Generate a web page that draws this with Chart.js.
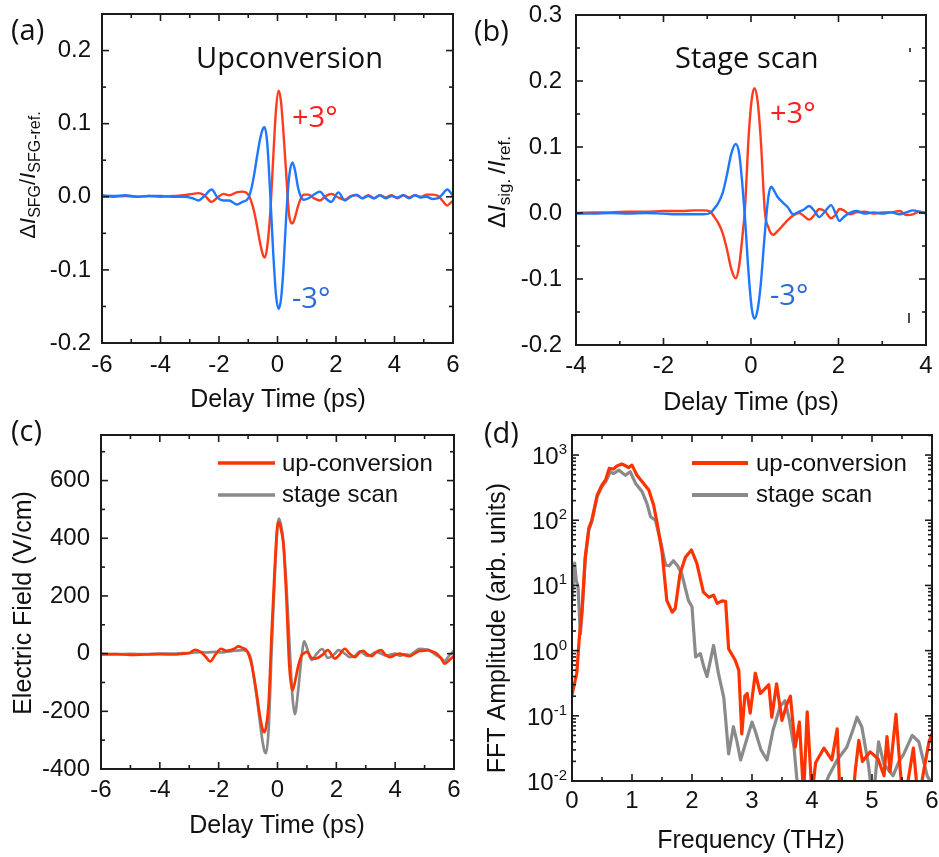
<!DOCTYPE html>
<html>
<head>
<meta charset="utf-8">
<script src="https://cdn.jsdelivr.net/npm/chart.js@4.4.1/dist/chart.umd.min.js"></script>
<style>
  html, body { margin: 0; padding: 0; background: #fff; }
  #wrap { position: relative; width: 939px; height: 857px; overflow: hidden; background: #fff; }
  #wrap canvas { position: absolute; left: 0; top: 0; }
</style>
</head>
<body>
<div id="wrap">
  <canvas id="chartA" width="939" height="857"></canvas>
  <canvas id="chartB" width="939" height="857"></canvas>
  <canvas id="chartC" width="939" height="857"></canvas>
  <canvas id="chartD" width="939" height="857"></canvas>
</div>
<script>
// ---- (a) upconversion, delay time (ps) vs dI/I ----
var delayA = [
  -6.0, -5.6, -5.2, -4.8, -4.4, -4.0, -3.6, -3.2, -2.9, -2.7,
  -2.5, -2.25, -2.05, -1.85, -1.65, -1.4, -1.2, -1.0, -0.9, -0.8,
  -0.7, -0.6, -0.5, -0.44, -0.35, -0.25, -0.15, -0.05, 0.04, 0.12,
  0.2, 0.3, 0.4, 0.51, 0.6, 0.7, 0.8, 0.9, 1.06, 1.25,
  1.45, 1.65, 1.84, 2.08, 2.3, 2.5, 2.7, 2.9, 3.1, 3.3,
  3.5, 3.7, 3.9, 4.1, 4.3, 4.5, 4.7, 4.9, 5.1, 5.3,
  5.5, 5.65, 5.8, 5.95, 6.0
];
var plusA = [
  0.001, 0.000, 0.001, 0.000, 0.001, 0.000, 0.001, 0.002, 0.004, 0.005,
  0.002, -0.007, -0.001, 0.004, 0.002, 0.006, 0.007, 0.003, -0.006, -0.020,
  -0.040, -0.062, -0.079, -0.083, -0.068, -0.023, 0.050, 0.120, 0.145, 0.130,
  0.090, 0.030, -0.026, -0.0365, -0.028, -0.013, -0.002, 0.003, 0.003, -0.002,
  -0.005, 0.001, 0.004, -0.001, -0.004, 0.001, 0.002, -0.002, 0.002, -0.002,
  0.002, -0.001, 0.002, -0.002, 0.002, -0.001, 0.002, 0.000, 0.003, 0.003,
  0.001, -0.006, -0.012, -0.007, -0.006
];
var minusA = [
  0.002, 0.001, 0.002, 0.000, 0.001, 0.001, 0.000, 0.000, -0.002, -0.005,
  0.001, 0.010, -0.001, -0.005, -0.005, -0.0105, -0.007, -0.002, 0.010, 0.030,
  0.055, 0.078, 0.093, 0.095, 0.073, 0.005, -0.074, -0.135, -0.1535, -0.140,
  -0.100, -0.025, 0.028, 0.047, 0.036, 0.013, 0.000, -0.004, -0.002, 0.003,
  0.007, -0.002, -0.007, 0.006, -0.005, 0.000, 0.003, -0.002, 0.001, -0.002,
  0.002, -0.002, 0.001, -0.001, 0.002, -0.002, 0.002, -0.001, 0.000, -0.003,
  -0.002, 0.004, 0.010, 0.004, 0.000
];

// ---- (b) stage scan ----
var delayB = [
  -4.0, -3.6, -3.2, -2.8, -2.4, -2.0, -1.6, -1.3, -1.1, -0.93,
  -0.85, -0.75, -0.65, -0.55, -0.45, -0.35, -0.27, -0.2, -0.14, -0.05,
  0.02, 0.08, 0.15, 0.22, 0.32, 0.4, 0.46, 0.51, 0.6, 0.74,
  0.85, 0.96, 1.1, 1.2, 1.33, 1.45, 1.56, 1.7, 1.83, 1.93,
  2.02, 2.12, 2.25, 2.41, 2.6, 2.8, 3.0, 3.2, 3.4, 3.55,
  3.7, 3.85, 4.0
];
var plusB = [
  0.000, 0.001, 0.001, 0.002, 0.002, 0.003, 0.003, 0.004, 0.004, 0.002,
  -0.005, -0.015, -0.030, -0.055, -0.085, -0.099, -0.080, -0.038, 0.005, 0.120,
  0.174, 0.189, 0.170, 0.115, 0.000, -0.022, -0.031, -0.033, -0.028, -0.018,
  -0.010, -0.004, 0.000, -0.004, -0.010, -0.003, 0.006, 0.002, -0.008, -0.003,
  0.006, 0.004, -0.002, 0.001, 0.002, -0.001, 0.001, 0.001, 0.003, -0.003,
  -0.002, 0.002, 0.000
];
var minusB = [
  -0.001, -0.001, 0.000, -0.001, 0.000, -0.001, -0.002, -0.002, -0.002, 0.000,
  0.006, 0.015, 0.030, 0.058, 0.090, 0.1045, 0.090, 0.045, -0.005, -0.096,
  -0.146, -0.160, -0.147, -0.110, -0.028, 0.026, 0.040, 0.036, 0.025, 0.015,
  0.008, -0.002, 0.002, 0.005, 0.0106, 0.003, -0.006, 0.003, 0.012, 0.000,
  -0.012, -0.006, 0.000, 0.003, -0.001, 0.001, -0.001, 0.001, -0.002, 0.001,
  0.004, 0.002, -0.001
];

// ---- (c) electric field (V/cm) ----
var delayC = [
  -6.0, -5.5, -5.0, -4.5, -4.0, -3.5, -3.2, -3.0, -2.8, -2.6,
  -2.45, -2.29, -2.1, -1.92, -1.75, -1.6, -1.45, -1.33, -1.2, -1.03,
  -0.9, -0.8, -0.7, -0.6, -0.5, -0.45, -0.39, -0.3, -0.2, -0.1,
  0.0, 0.05, 0.12, 0.2, 0.3, 0.4, 0.51, 0.59, 0.7, 0.82,
  0.91, 1.0, 1.16, 1.3, 1.52, 1.71, 1.95, 2.07, 2.29, 2.45,
  2.63, 2.8, 2.91, 3.05, 3.2, 3.35, 3.53, 3.65, 3.82, 4.0,
  4.16, 4.3, 4.5, 4.65, 4.83, 5.0, 5.12, 5.25, 5.39, 5.55,
  5.68, 5.85, 6.0
];
var fieldUp = [
  -3, -2, -4, -3, -2, -3, 0, 2, 13, 5,
  -10, -27, -2, 17, 10, 12, 18, 25, 20, 8,
  -30, -80, -145, -215, -265, -272, -255, -170, 70, 285,
  445, 456, 430, 380, 200, -40, -127, -100, -45, -6,
  2, 6, -15, -17, -5, 12, -17, -8, 17, 0,
  -12, 5, 10, -2, -9, 5, 12, -2, -12, -5,
  0, -5, -9, 0, 9, 10, 12, 8, 2, -15,
  -35, -22, -8
];
var fieldStage = [
  0, -2, -1, -2, 0, 0, 2, 2, 4, 5,
  4, 5, 6, 4, 6, 8, 10, 11, 12, 8,
  -20, -85, -155, -235, -310, -335, -345, -260, 10, 250,
  440, 468, 445, 390, 240, 50, -150, -210, -130, -10,
  43, 20, -22, -5, 16, -15, 0, 12, 0, -12,
  -8, 8, 2, -8, -3, 5, 0, -6, -4, 0,
  -8, -2, -5, 5, 17, 15, 13, 5, -5, -15,
  -25, -5, 10
];

// ---- (d) FFT amplitude (arb. units) vs frequency (THz) ----
var freqUp = [
  0.0, 0.08, 0.12, 0.17, 0.22, 0.28, 0.33, 0.42, 0.5, 0.56,
  0.62, 0.69, 0.75, 0.83, 0.9, 0.94, 1.0, 1.08, 1.17, 1.28,
  1.36, 1.42, 1.5, 1.58, 1.67, 1.72, 1.8, 1.89, 1.99, 2.08,
  2.19, 2.28, 2.36, 2.42, 2.5, 2.56, 2.61, 2.72, 2.78, 2.83,
  2.88, 2.92, 2.97, 3.055, 3.14, 3.28, 3.33, 3.41, 3.5, 3.58,
  3.64, 3.72, 3.79, 3.86, 3.92, 4.0, 4.06, 4.2, 4.33, 4.42,
  4.47, 4.6, 4.68, 4.72, 4.78, 4.84, 4.97, 5.1, 5.2, 5.25,
  5.3, 5.4, 5.47, 5.52, 5.6, 5.69, 5.75, 5.78, 5.86, 5.95,
  6.0
];
var fftUp = [
  0.21, 0.45, 1.5, 4.7, 27, 75, 100, 244, 347, 414,
  625, 610, 678, 727, 678, 640, 700, 493, 390, 290,
  171, 89, 33, 5.9, 3.9, 4.4, 15, 27, 35, 22,
  7.9, 6.6, 7.1, 5.3, 5.8, 5.7, 1.07, 0.71, 0.5, 0.053,
  0.2, 0.22, 0.11, 0.45, 0.22, 0.30, 0.095, 0.31, 0.085, 0.15,
  0.2, 0.033, 0.08, 0.006, 0.115, 0.006, 0.019, 0.032, 0.021, 0.063,
  0.005, 0.004, 0.005, 0.014, 0.042, 0.02, 0.028, 0.022, 0.012, 0.048,
  0.014, 0.105, 0.015, 0.005, 0.01, 0.032, 0.008, 0.005, 0.014, 0.04,
  0.053
];
var freqStage = [
  0.0, 0.044, 0.07, 0.1, 0.14, 0.17, 0.22, 0.28, 0.33, 0.42,
  0.5, 0.56, 0.64, 0.69, 0.78, 0.84, 0.89, 0.97, 1.06, 1.17,
  1.25, 1.31, 1.39, 1.47, 1.56, 1.62, 1.69, 1.76, 1.83, 1.94,
  2.0, 2.06, 2.14, 2.2, 2.25, 2.36, 2.44, 2.53, 2.61, 2.69,
  2.75, 2.81, 2.9, 3.0, 3.05, 3.15, 3.25, 3.35, 3.47, 3.55,
  3.62, 3.7, 3.78, 3.9, 4.0, 4.1, 4.2, 4.28, 4.42, 4.58,
  4.68, 4.75, 4.83, 4.94, 5.0, 5.05, 5.11, 5.2, 5.35, 5.45,
  5.53, 5.67, 5.78, 5.92, 6.0
];
var fftStage = [
  6, 22, 12, 9.6, 1.8, 4, 25, 70, 95, 230,
  330, 390, 555, 520, 588, 530, 490, 555, 367, 273,
  180, 113, 100, 50, 20.5, 20, 24, 20, 15, 5.9,
  4.7, 0.8, 0.9, 0.55, 0.4, 1.2, 0.45, 0.19, 0.026, 0.068,
  0.04, 0.021, 0.04, 0.08, 0.06, 0.03, 0.021, 0.06, 0.14, 0.17,
  0.09, 0.033, 0.005, 0.004, 0.005, 0.006, 0.008, 0.012, 0.021, 0.033,
  0.06, 0.095, 0.068, 0.018, 0.006, 0.01, 0.04, 0.018, 0.012, 0.02,
  0.026, 0.05, 0.04, 0.012, 0.009
];

var W = 939, H = 857;
var YW = 90, XH = 60;   // fixed axis box sizes
var SANS = '"Liberation Sans", Arial, sans-serif';
var LABEL = '"Open Sans", sans-serif';
var RED = '#ff3c1e', BLUE = '#1e78ff', RED2 = '#ff3300', GREY = '#8a8a8a';

Chart.defaults.font.family = SANS;
Chart.defaults.color = '#111';

function pts(xs, ys) {
  return xs.map(function (x, i) { return { x: x, y: ys[i] }; });
}

function fmt(d) {
  return function (v) { return Math.abs(v) < 1e-9 ? (0).toFixed(d) : Number(v).toFixed(d); };
}

// frame + inward ticks on all four sides
var frameTicks = {
  id: 'frameTicks',
  afterDatasetsDraw: function (chart, args, o) {
    var ctx = chart.ctx, a = chart.chartArea, x = chart.scales.x, y = chart.scales.y;
    ctx.save();
    ctx.strokeStyle = '#1b1b1b';
    ctx.lineWidth = 1.6;
    function seg(x1, y1, x2, y2) { ctx.beginPath(); ctx.moveTo(x1, y1); ctx.lineTo(x2, y2); ctx.stroke(); }
    function isMajor(v, step) { var r = v / step; return Math.abs(r - Math.round(r)) < 1e-6; }
    for (var i = 1; x.min + i * o.xMinor < x.max - 1e-9; i++) {
      var v = x.min + i * o.xMinor, px = x.getPixelForValue(v), len = isMajor(v, o.xMajor) ? 7 : 4;
      seg(px, a.bottom, px, a.bottom - len);
      seg(px, a.top, px, a.top + len);
    }
    var yv = [];
    if (o.log) {
      for (var d = -2; d <= 3; d++) for (var k = 1; k <= 9; k++) {
        var lv = k * Math.pow(10, d);
        if (lv > y.min * 1.001 && lv < y.max) yv.push([lv, k === 1]);
      }
    } else {
      for (var j = 1; y.min + j * o.yMinor < y.max - 1e-9; j++) {
        var w = y.min + j * o.yMinor;
        yv.push([w, isMajor(w, o.yMajor)]);
      }
    }
    yv.forEach(function (e) {
      var py = y.getPixelForValue(e[0]), l = e[1] ? 7 : 4;
      seg(a.left, py, a.left + l, py);
      seg(a.right, py, a.right - l, py);
    });
    ctx.lineWidth = 2;
    ctx.strokeRect(a.left, a.top, a.right - a.left, a.bottom - a.top);
    ctx.restore();
  }
};

function drawRich(ctx, r) {
  ctx.save();
  ctx.translate(r.x, r.y);
  if (r.rotate) ctx.rotate(-Math.PI / 2);
  ctx.textBaseline = 'alphabetic';
  ctx.textAlign = 'left';
  var total = 0;
  r.segs.forEach(function (s) { ctx.font = s.font; s.w = ctx.measureText(s.text).width; total += s.w; });
  var cx = -total / 2;
  ctx.fillStyle = r.color || '#111';
  r.segs.forEach(function (s) { ctx.font = s.font; ctx.fillText(s.text, cx, s.dy || 0); cx += s.w; });
  ctx.restore();
}

// panel letters, annotations, axis titles, legends
var notes = {
  id: 'notes',
  afterDraw: function (chart, args, o) {
    var ctx = chart.ctx;
    ctx.save();
    (o.lines || []).forEach(function (l) {
      ctx.strokeStyle = l.color; ctx.lineWidth = l.width; ctx.lineCap = 'butt';
      ctx.beginPath(); ctx.moveTo(l.x1, l.y); ctx.lineTo(l.x2, l.y); ctx.stroke();
    });
    (o.marks || []).forEach(function (m) {
      ctx.strokeStyle = '#222'; ctx.lineWidth = 1.6;
      ctx.beginPath(); ctx.moveTo(m.x, m.y1); ctx.lineTo(m.x, m.y2); ctx.stroke();
    });
    (o.texts || []).forEach(function (t) {
      ctx.font = t.font; ctx.fillStyle = t.color || '#111';
      ctx.textAlign = t.align || 'left'; ctx.textBaseline = 'alphabetic';
      ctx.fillText(t.text, t.x, t.y);
    });
    (o.rich || []).forEach(function (r) { drawRich(ctx, r); });
    if (o.logLabels) {
      var y = chart.scales.y, L = o.logLabels;
      for (var e = -2; e <= 3; e++) {
        var py = y.getPixelForValue(Math.pow(10, e));
        var sup = String(e);
        ctx.textAlign = 'right'; ctx.fillStyle = '#111';
        ctx.font = L.supFont;
        var sw = ctx.measureText(sup).width;
        ctx.fillText(sup, L.right, py + L.supDy);
        ctx.font = L.font;
        ctx.fillText('10', L.right - sw, py + L.dy);
      }
    }
    ctx.restore();
  }
};

function axis(which, cfg) {
  return {
    type: cfg.type || 'linear',
    min: cfg.min, max: cfg.max,
    grid: { display: false, drawTicks: false },
    border: { display: false },
    ticks: {
      display: cfg.labels !== false,
      stepSize: cfg.step, includeBounds: false, autoSkip: false, maxRotation: 0,
      padding: cfg.pad, color: '#111', font: { family: SANS, size: 24 },
      callback: cfg.fmt
    },
    afterFit: function (s) {
      if (which === 'x') s.height = XH; else s.width = YW;
      s.paddingTop = 0; s.paddingBottom = 0; s.paddingLeft = 0; s.paddingRight = 0;
    }
  };
}

function options(box, xs, ys, frame, note) {
  return {
    responsive: false, animation: false, devicePixelRatio: 1, events: [],
    layout: { padding: { left: box.left - YW, top: box.top, right: W - box.right, bottom: H - box.bottom - XH } },
    elements: { point: { radius: 0 }, line: { borderJoinStyle: 'round', borderCapStyle: 'round' } },
    plugins: { legend: { display: false }, tooltip: { enabled: false }, frameTicks: frame, notes: note },
    scales: { x: xs, y: ys }
  };
}

function line(data, color, width, smooth) {
  return {
    data: data, borderColor: color, borderWidth: width, fill: false, pointRadius: 0,
    cubicInterpolationMode: smooth ? 'monotone' : 'default', tension: 0
  };
}

var big = '29px ' + LABEL;
var title = '25px ' + SANS;
var legendFont = '24px ' + SANS;

new Chart(document.getElementById('chartA'), {
  type: 'line',
  data: { datasets: [
    line(pts(delayA, minusA), BLUE, 2.4, true),
    line(pts(delayA, plusA), RED, 2.4, true)
  ] },
  options: options(
    { left: 102, top: 14, right: 453, bottom: 343 },
    axis('x', { min: -6, max: 6, step: 2, pad: 8, fmt: fmt(0) }),
    axis('y', { min: -0.2, max: 0.25, step: 0.1, pad: 11, fmt: fmt(1) }),
    { xMinor: 1, xMajor: 2, yMinor: 0.05, yMajor: 0.1 },
    {
      texts: [
        { text: '(a)', x: 11, y: 40, font: big },
        { text: 'Upconversion', x: 196, y: 68, font: big },
        { text: '+3\u00b0', x: 292, y: 127, font: big, color: '#ff1e1e' },
        { text: '-3\u00b0', x: 292, y: 308, font: big, color: '#2a6bd6' },
        { text: 'Delay Time (ps)', x: 278, y: 407, font: title, align: 'center' }
      ],
      rich: [{ x: 35, y: 175, rotate: true, segs: [
        { text: '\u0394', font: '22px ' + SANS },
        { text: 'I', font: 'italic 22px ' + SANS },
        { text: 'SFG', font: '16px ' + SANS, dy: 5 },
        { text: '/', font: '22px ' + SANS },
        { text: 'I', font: 'italic 22px ' + SANS },
        { text: 'SFG-ref.', font: '16px ' + SANS, dy: 5 }
      ] }]
    }
  ),
  plugins: [frameTicks, notes]
});

new Chart(document.getElementById('chartB'), {
  type: 'line',
  data: { datasets: [
    line(pts(delayB, minusB), BLUE, 2.4, true),
    line(pts(delayB, plusB), RED, 2.4, true)
  ] },
  options: options(
    { left: 576, top: 15, right: 926, bottom: 345 },
    axis('x', { min: -4, max: 4, step: 2, pad: 7, fmt: fmt(0) }),
    axis('y', { min: -0.2, max: 0.3, step: 0.1, pad: 14, fmt: fmt(1) }),
    { xMinor: 1, xMajor: 2, yMinor: 0.05, yMajor: 0.1 },
    {
      marks: [
        { x: 910, y1: 48, y2: 52 },
        { x: 909, y1: 313, y2: 323 }
      ],
      texts: [
        { text: '(b)', x: 474, y: 41, font: big },
        { text: 'Stage scan', x: 675, y: 68, font: big },
        { text: '+3\u00b0', x: 770, y: 123, font: big, color: '#ff1e1e' },
        { text: '-3\u00b0', x: 770, y: 305, font: big, color: '#2a6bd6' },
        { text: 'Delay Time (ps)', x: 751, y: 410, font: title, align: 'center' }
      ],
      rich: [{ x: 505, y: 182, rotate: true, segs: [
        { text: '\u0394', font: '24px ' + SANS },
        { text: 'I', font: 'italic 24px ' + SANS },
        { text: 'sig. ', font: '17px ' + SANS, dy: 5 },
        { text: '/', font: '24px ' + SANS },
        { text: 'I', font: 'italic 24px ' + SANS },
        { text: 'ref.', font: '17px ' + SANS, dy: 5 }
      ] }]
    }
  ),
  plugins: [frameTicks, notes]
});

new Chart(document.getElementById('chartC'), {
  type: 'line',
  data: { datasets: [
    line(pts(delayC, fieldUp), RED2, 2.7, true),
    line(pts(delayC, fieldStage), GREY, 2.7, true)
  ] },
  options: options(
    { left: 101, top: 435, right: 454, bottom: 769 },
    axis('x', { min: -6, max: 6, step: 2, pad: 7, fmt: fmt(0) }),
    axis('y', { min: -400, max: 758, step: 200, pad: 11, fmt: fmt(0) }),
    { xMinor: 1, xMajor: 2, yMinor: 100, yMajor: 200 },
    {
      lines: [
        { x1: 218, x2: 275, y: 463, color: RED2, width: 3.5 },
        { x1: 218, x2: 275, y: 495, color: GREY, width: 3.5 }
      ],
      texts: [
        { text: '(c)', x: 11, y: 441, font: big },
        { text: 'up-conversion', x: 282, y: 471, font: legendFont },
        { text: 'stage scan', x: 282, y: 502, font: legendFont },
        { text: 'Delay Time (ps)', x: 277, y: 833, font: title, align: 'center' }
      ],
      rich: [{ x: 31, y: 603, rotate: true, segs: [
        { text: 'Electric Field (V/cm)', font: title }
      ] }]
    }
  ),
  plugins: [frameTicks, notes]
});

new Chart(document.getElementById('chartD'), {
  type: 'line',
  data: { datasets: [
    line(pts(freqUp, fftUp), RED2, 3.2, false),
    line(pts(freqStage, fftStage), GREY, 3.2, false)
  ] },
  options: options(
    { left: 572, top: 435, right: 932, bottom: 781 },
    axis('x', { min: 0, max: 6, step: 1, pad: 6, fmt: fmt(0) }),
    axis('y', { type: 'logarithmic', min: 0.01, max: 2030, labels: false, pad: 5 }),
    { xMinor: 0.5, xMajor: 1, log: true },
    {
      lines: [
        { x1: 692, x2: 748, y: 463, color: RED2, width: 4 },
        { x1: 692, x2: 748, y: 495, color: GREY, width: 4 }
      ],
      texts: [
        { text: '(d)', x: 484, y: 443, font: big },
        { text: 'up-conversion', x: 756, y: 471, font: legendFont },
        { text: 'stage scan', x: 756, y: 502, font: legendFont },
        { text: 'Frequency (THz)', x: 751, y: 848, font: title, align: 'center' }
      ],
      rich: [{ x: 505, y: 628, rotate: true, segs: [
        { text: 'FFT Amplitude (arb. units)', font: title }
      ] }],
      logLabels: { right: 567, font: '24px ' + SANS, supFont: '15px ' + SANS, dy: 9, supDy: -1 }
    }
  ),
  plugins: [frameTicks, notes]
});
</script>
</body>
</html>
